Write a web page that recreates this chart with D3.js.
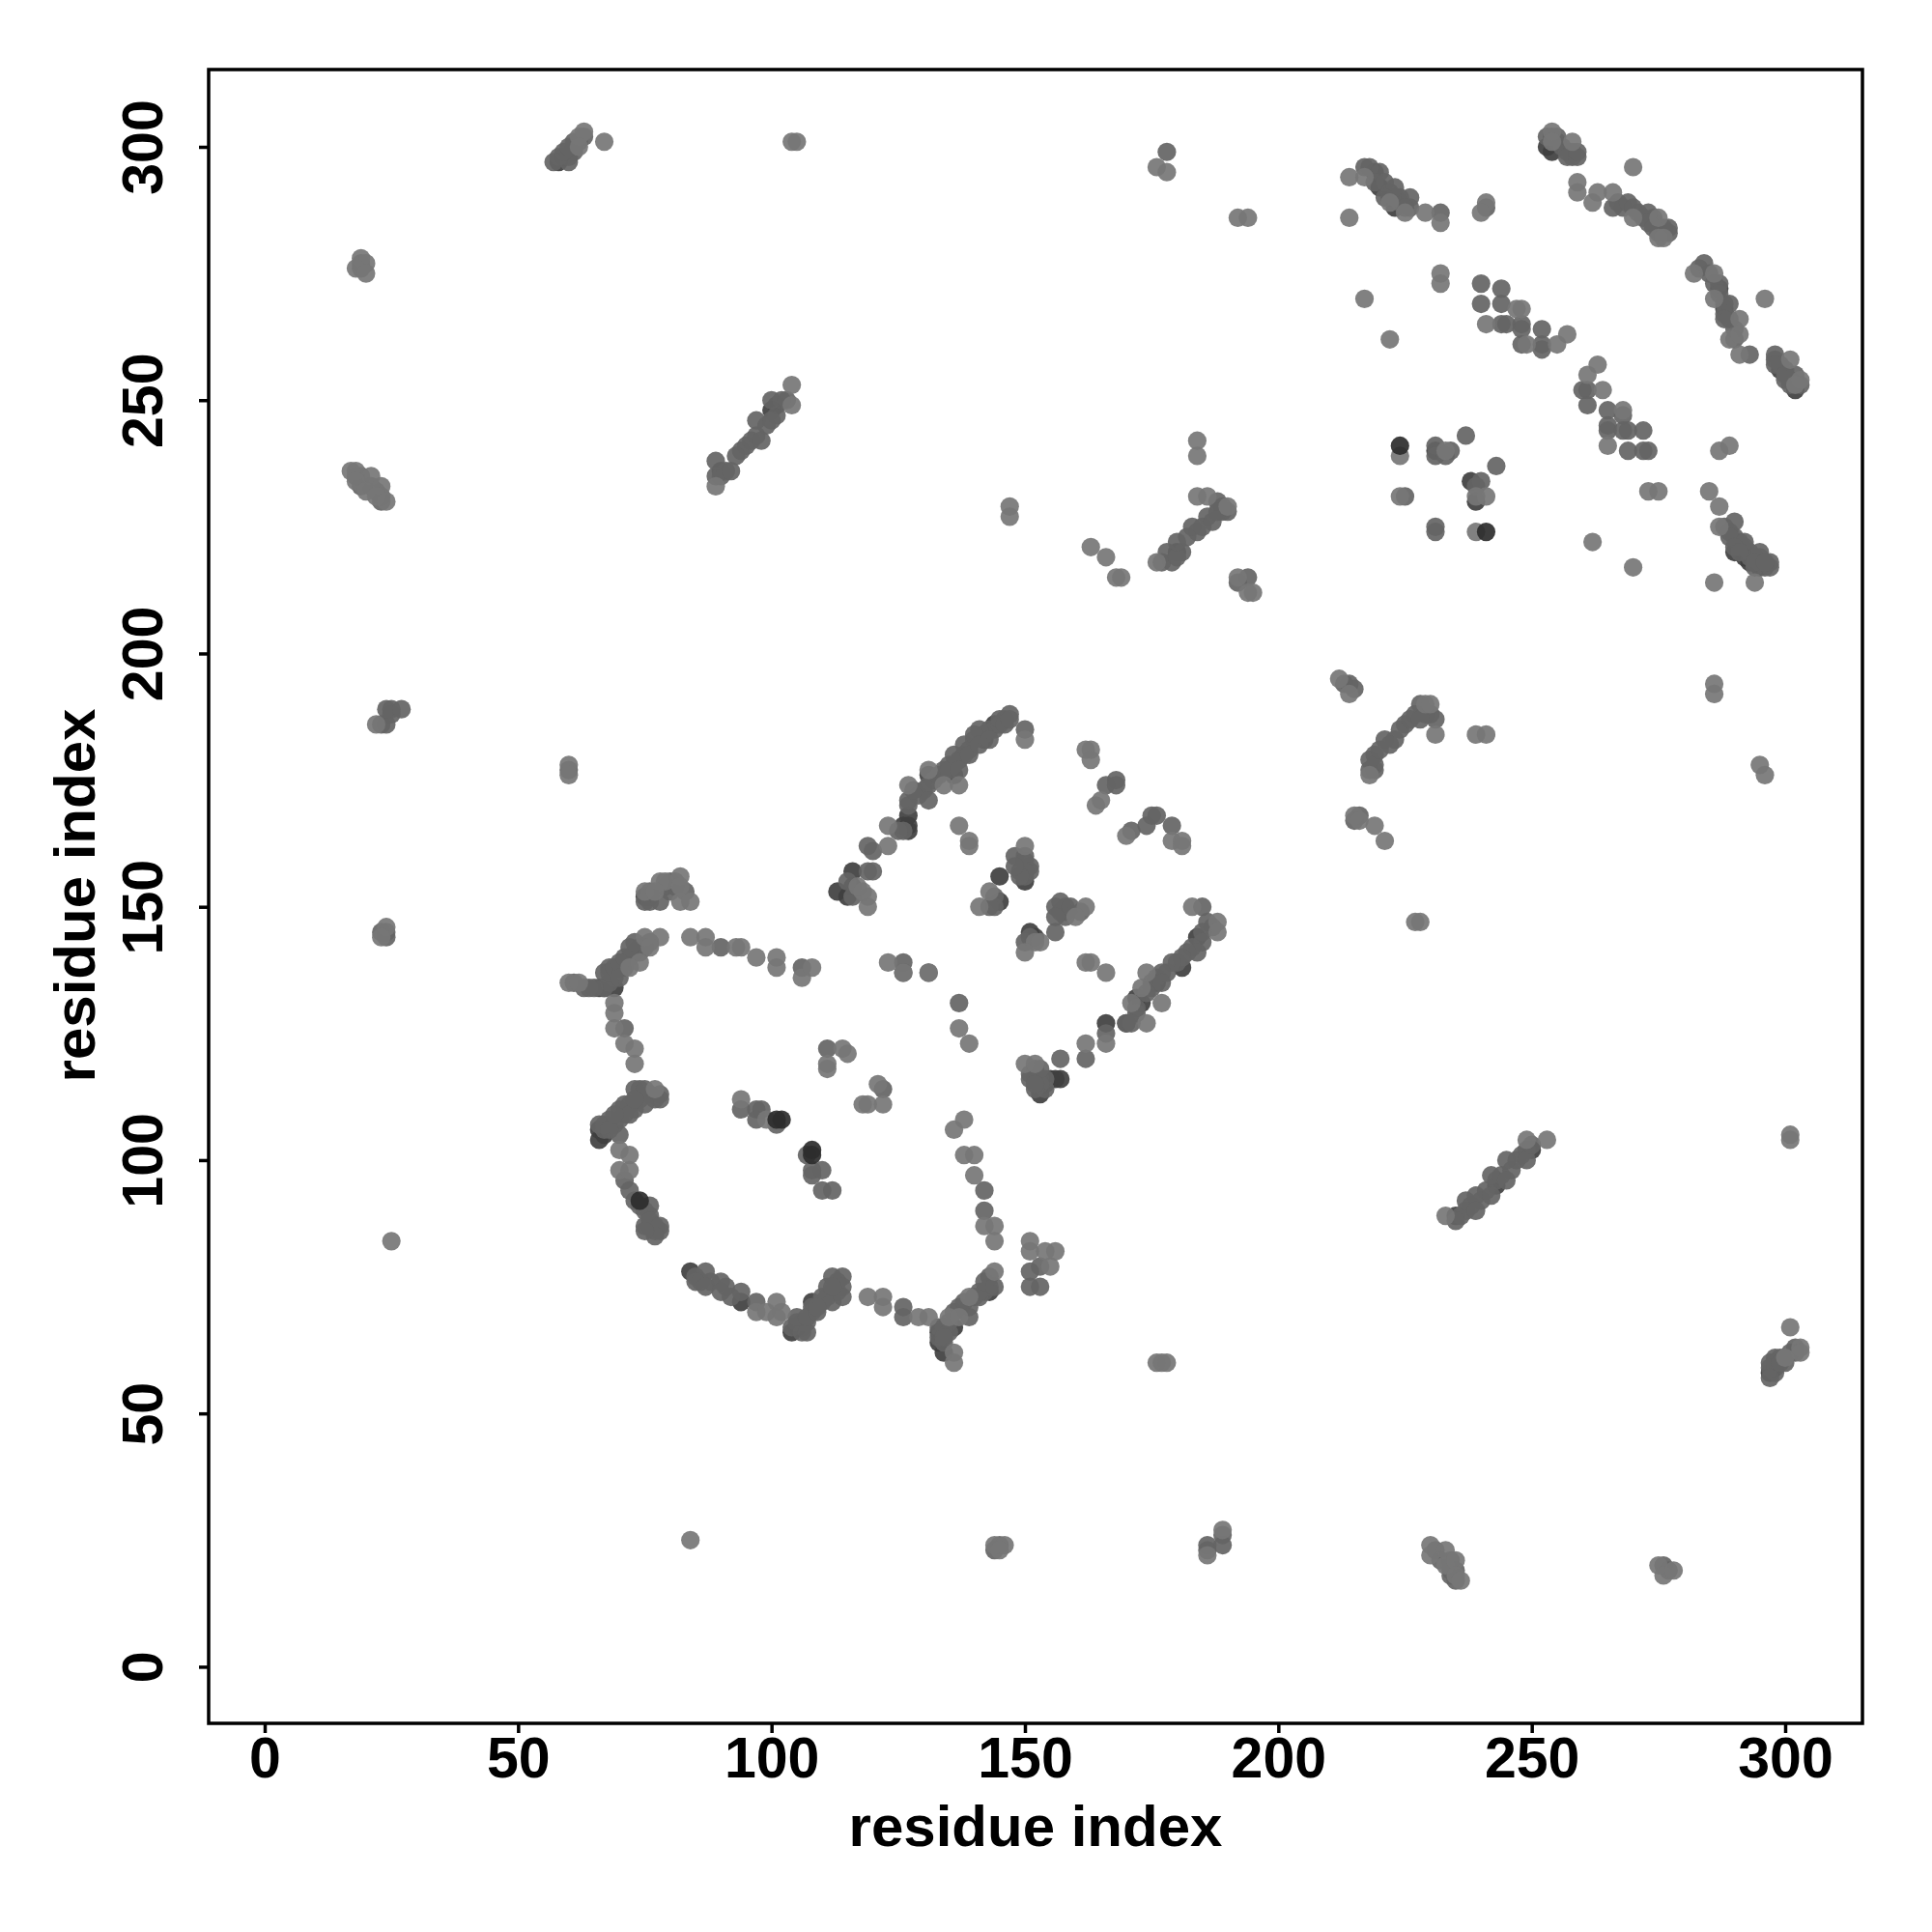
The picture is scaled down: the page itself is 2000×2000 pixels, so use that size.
<!DOCTYPE html>
<html><head><meta charset="utf-8">
<style>html,body{margin:0;padding:0;background:#fff}svg{display:block}text{font-family:"Liberation Sans",Arial,sans-serif;font-weight:700;fill:#000}</style>
<script src="https://cdn.jsdelivr.net/npm/d3@7/dist/d3.min.js"></script>
</head><body><svg id="c" width="2000" height="2000"></svg>
<script>
const tickValues=[0,50,100,150,200,250,300];
const axisTitle="residue index";
// [residue i, residue j] contacts, by shade class
const lightContacts=[
[75,153],[78,155],[79,155],[82,156],[82,154],[82,151],[84,151],[77,153],[60,135],[62,135],[78,144],[75,144],[76,142],[74,139],[72,138],[69,131],[69,129],[69,126],[71,123],[73,122],[73,119],[70,102],[72,101],[70,98],[72,98],[77,114],[84,144],[87,144],[87,142],[93,142],[94,142],[97,140],[101,140],[101,138],[106,136],[108,138],[123,139],[126,137],[131,137],[137,126],[139,123],[111,119],[111,118],[114,122],[115,121],[94,112],[99,108],[118,111],[119,111],[122,111],[121,115],[138,108],[136,106],[138,101],[140,101],[140,97],[144,87],[142,87],[144,84],[151,84],[151,82],[156,82],[155,79],[154,82],[97,70],[101,72],[101,69],[99,70],[102,70],[119,73],[122,73],[122,71],[129,69],[131,69],[136,62],[136,60],[139,73],[135,69],[137,69],[144,78],
[119,152],[119,150],[118,153],[117,154],[123,162],[123,166],[127,174],[131,177],[134,174],[137,174],[137,166],[139,163],[139,162],[150,183],[162,181],[163,181],[163,179],[164,170],[165,171],[170,164],[179,163],[181,163],[181,162],[150,162],[143,153],[141,150],[162,150],[160,148],[152,143],[153,143],[150,141],[162,139],[163,139],[166,137],[183,150],[188,147],[188,145],[174,137],[173,134],[177,131],[174,127],[171,131],[166,123],[162,123],[150,119],[152,119],
[214,294],[217,294],[222,289],[225,287],[229,287],[232,285],[214,286],[241,289],[240,287],[217,270],[222,262],[232,275],[232,273],[241,265],[247,268],[248,268],[257,263],[255,261],[249,261],[254,303],[254,301],[258,301],[259,293],[259,291],[262,289],[263,291],[266,291],[270,296],[270,286],[275,286],[275,282],[276,282],[282,275],[286,275],[286,270],[291,266],[289,262],[291,263],[291,259],[296,270],[301,258],[302,253],[303,254],[263,257],[261,255],[264,252],[268,248],[265,241],[287,240],[289,241],[273,232],[275,232],[285,232],[287,229],[287,225],[294,214],[286,214],[262,222],[270,217],[224,239],[233,240],[239,224],[241,231],[239,231],[224,231],
[62,302],[63,303],[62,300],[67,301],[104,301],[105,301],[176,296],[178,295],[192,286],[194,286],[19,278],[20,277],[18,276],[20,275],[17,236],[18,236],[21,235],[18,234],[20,232],[23,233],[22,231],[24,230],[22,186],[60,178],[60,176],[24,146],[23,144],[25,84],[84,25],[144,24],[146,24],[145,23],[186,22],[189,27],[230,24],[230,22],[233,23],[233,20],[235,21],[235,18],[236,17],[275,20],[276,18],[278,19],[176,60],[177,60],[178,60],[301,67],[303,63],[303,62],[300,61],[301,105],[301,104],[233,89],[249,104],[253,104],[89,233],[104,253],[104,249],[147,229],[147,227],[163,221],[166,219],[168,215],[169,215],[176,218],[184,242],[184,239],[184,231],[186,231],[190,229],[192,215],[194,212],[195,212],[212,195],[214,192],[227,147],[228,147],[215,168],[216,167],[219,166],[221,163],[218,176],[229,190],[230,190],[231,184],[239,184],[241,184],[286,194],[286,192],[295,178],[296,176]
];
const midContacts=[
[75,151],[78,151],[64,134],[65,134],[68,137],[69,138],[70,139],[71,140],[72,142],[73,143],[70,136],[71,126],[73,114],[75,114],[70,108],[68,108],[71,111],[72,109],[75,111],[66,107],[70,105],[68,106],[69,109],[73,112],[72,94],[76,91],[74,91],[75,87],[76,88],[78,87],[77,85],[75,86],[87,78],[85,76],[87,75],[90,76],[90,74],[94,74],[97,72],[104,67],[106,66],[107,66],[105,69],[107,69],[109,70],[110,73],[112,72],[112,77],[114,77],[114,75],[114,73],[112,75],[109,71],[126,71],[126,69],[133,67],[135,66],[134,65],[138,72],[141,74],[142,76],[144,75],[139,69],[90,142],[106,138],[126,139],[137,131],[111,122],[94,110],[97,110],[98,110],[97,108],[101,107],[122,114],[107,101],[108,98],[108,97],[110,98],[110,94],[112,94],[142,94],[142,90],[151,78],[153,79],[151,75],[153,75],
[116,152],[115,155],[120,157],[119,157],[119,162],[120,161],[127,170],[127,171],[128,173],[131,174],[131,171],[135,177],[136,180],[138,182],[137,177],[139,180],[141,185],[140,184],[141,182],[143,183],[145,187],[146,186],[147,188],[147,187],[150,185],[168,175],[166,174],[168,174],[175,168],[174,166],[171,165],[176,168],[179,166],[148,160],[150,159],[151,157],[150,157],[149,156],[148,158],[143,150],[144,150],[157,151],[156,150],[159,150],[156,145],[156,148],[150,143],[151,144],[131,137],[126,137],[185,150],[185,145],[186,147],[185,143],[184,141],[182,141],[181,140],[179,139],[177,137],[177,135],[170,127],[171,127],[166,125],[162,120],[157,120],[152,114],[153,118],[151,116],[152,115],
[217,296],[218,296],[220,295],[219,293],[221,293],[223,292],[221,290],[226,290],[225,288],[232,287],[240,273],[240,269],[244,272],[244,269],[245,265],[244,265],[248,265],[248,264],[248,261],[252,264],[252,261],[252,260],[253,302],[257,298],[259,298],[259,299],[266,288],[269,289],[270,288],[273,287],[273,285],[274,284],[277,284],[284,277],[287,273],[289,269],[288,266],[293,259],[298,259],[298,257],[302,255],[301,253],[300,255],[261,252],[260,252],[261,249],[265,248],[268,247],[265,245],[265,244],[268,244],[269,244],[272,244],[269,240],[272,240],[273,240],[290,226],[289,223],[292,222],[290,221],[291,220],[295,220],[294,218],[296,218],[231,241],[231,239],[234,240],[233,239],[237,243],[243,237],[240,234],[239,233],[225,231],[231,225],[231,224],
[57,297],[60,297],[59,299],[60,300],[178,299],[24,186],[24,189],[27,189],[186,24],[189,24],[234,19],[298,60],[297,59],[297,57],[299,60],[301,62],[236,89],[237,92],[239,93],[239,90],[242,93],[242,97],[245,96],[245,100],[249,100],[250,103],[235,88],[89,235],[89,238],[92,236],[93,239],[96,242],[98,242],[97,246],[100,246],[103,250],[179,218],[178,220],[180,219],[180,222],[182,223],[183,225],[185,225],[187,226],[188,228],[188,230],[192,214],[194,215],[214,194],[219,178],[218,179],[220,181],[222,182],[224,185],[226,187],[231,187],[228,187]
];
const denseContacts=[
[90,235],[91,236],[94,240],[95,241],[97,243],[99,245],[101,247],[102,250],[100,250],[237,90],[238,91],[240,92],[241,94],[243,96],[244,97],[246,98],[247,100],[248,101],[249,102],[177,218],[181,220],[184,224],[186,227],[189,229],[189,228],[190,228],[218,177],[219,180],[221,183],[223,183],[225,186],[227,188],[228,190],[229,188],[230,188],[219,177],[58,298],[61,299],[61,301],[60,298],[62,301],[63,302],[61,300],[60,177],[24,145],[23,145],[24,144],[18,235],[19,235],[19,233],[21,233],[22,232],[23,231],[23,230],[19,277],[19,276],[25,189],[23,186],[25,188],[145,24],[144,23],[186,23],[189,26],[231,23],[232,21],[234,21],[234,18],[235,17],[235,19],[276,20],[277,19],[298,58],[298,61],[299,61],[300,60],[302,62],[302,63],[297,60],
[254,302],[255,301],[256,300],[257,299],[258,298],[258,299],[255,302],[267,289],[268,288],[271,287],[272,286],[274,286],[276,284],[277,283],[275,283],[283,276],[285,275],[286,273],[287,271],[288,269],[288,267],[289,266],[290,264],[290,262],[298,258],[299,257],[300,256],[301,254],[300,254],[303,253],[222,291],[224,290],[224,289],[223,290],[226,288],[241,288],[288,225],[289,224],[290,223],[291,222],[292,221],[293,220],[294,219],[295,219],[296,217],[294,217],[293,219],[291,221],[295,218],[297,217],[297,218],
[187,146],[183,142],[180,139],[178,137],[176,136],[175,135],[175,134],[174,133],[172,130],[172,129],[130,173],[129,172],[132,175],[133,176],[134,177],[135,178],[136,178],[137,179],[138,180],[139,181],[140,183],[142,184],[143,185],[144,185],[145,186],[146,187],[126,165],[125,165],
[105,68],[106,68],[107,68],[108,70],[108,71],[110,72],[111,73],[111,75],[112,74],[113,74],[113,76],[135,68],[136,70],[137,71],[139,71],[140,73],[141,73],[142,74],[143,75],[143,77],[134,67],[134,64],[133,65],
[67,137],[68,138],[69,136],[70,138],[71,138],[71,139],[72,140],[73,141],[74,142],[74,141],[75,142],[76,143],[67,134],[63,134],[61,135],[68,135],[67,106],[67,107],[69,107],[70,110],[71,109],[72,111],[73,110],[74,112],[74,114],[76,113],[77,112],[78,113],[78,112],[71,96],[73,92],[75,90],[76,89],[77,87],[78,86],[77,86],[76,87],[85,77],[86,76],[88,76],[91,75],[92,73],
[76,153],[76,151],[76,152],[79,154],[80,155],[81,154],[80,153],[81,155],[83,153],[150,156],[151,158],[150,160],[149,157],[158,150],[158,149],[157,149],[158,148],[144,152],[161,149],[153,116],[154,116],[154,114],[153,115],[151,117],[152,118],[216,168],[215,167],[213,194],[215,193]
];
const darkContacts=[
[75,152],[66,134],[69,134],[67,134],[66,104],[66,106],[67,105],[84,78],[94,72],[104,66],[105,67],[106,67],[108,72],[133,64],[133,66],[134,62],[136,67],[143,74],[113,153],[116,157],[115,152],[116,154],[127,166],[127,165],[126,166],[131,176],[136,176],[142,183],[144,186],[127,168],[145,156],[150,155],[145,151],[151,145],[152,144],[173,131],[172,132],[170,127],[166,127],[157,116],[156,116],[155,116],[153,113],[154,115],[152,116],[176,135],[181,138],[184,144],[219,295],[220,292],[222,290],[223,288],[253,300],[254,299],[274,285],[276,283],[287,272],[288,268],[290,220],[292,219],[293,218],[295,217],[299,256],[302,252],[231,240],[238,234],[239,230],[58,297],[59,298],[297,58],[298,59],[90,236],[101,249],[100,248],[235,89],[243,95],[250,102],[180,220]
];
const strongContacts=[[108,102],[108,101],[102,108],[101,108],[224,241],[241,224],[74,92]];
const shadeClasses=[["dark",darkContacts],["mid",denseContacts],["mid",midContacts],["light",lightContacts],["strong",strongContacts]];

const x=d3.scaleLinear().domain([0,300]).range([274,1848]);
const y=d3.scaleLinear().domain([0,300]).range([1725.4,152]);
const shade=d3.scaleOrdinal().domain(["dark","mid","light","strong"]).range(["#3f3f3f","#646464","#767676","#2c2c2c"]);
const svg=d3.select("#c");

const points=shadeClasses.flatMap(([k,list])=>list.map(p=>({i:p[0],j:p[1],k})));
svg.append("g").selectAll("circle").data(points).join("circle")
 .attr("cx",d=>x(d.i)).attr("cy",d=>y(d.j)).attr("r",9.6)
 .attr("fill",d=>shade(d.k)).attr("fill-opacity",.92);

svg.append("rect").attr("x",216).attr("y",72).attr("width",1712).attr("height",1712)
 .attr("fill","none").attr("stroke","#000").attr("stroke-width",3.5);

const gx=svg.append("g").attr("transform","translate(0,1784)")
 .call(d3.axisBottom(x).tickValues(tickValues).tickSize(10).tickFormat(d3.format("d")));
const gy=svg.append("g").attr("transform","translate(216,0)")
 .call(d3.axisLeft(y).tickValues(tickValues).tickSize(10).tickFormat(d3.format("d")));
[gx,gy].forEach(g=>{g.select(".domain").remove();
 g.selectAll("line").attr("stroke","#000").attr("stroke-width",3.5);
 g.selectAll("text").attr("font-size",59).attr("fill","#000").attr("font-family",null);});
gx.selectAll("text").attr("y",56).attr("dy",0);
gy.selectAll("text").attr("x",null).attr("dy",0).attr("text-anchor","middle")
 .attr("transform","translate(-48,0) rotate(-90)");

svg.append("text").attr("x",1072).attr("y",1911).attr("text-anchor","middle").attr("font-size",60).text(axisTitle);
svg.append("text").attr("transform","translate(98,927) rotate(-90)").attr("text-anchor","middle").attr("font-size",60).text(axisTitle);
</script></body></html>
